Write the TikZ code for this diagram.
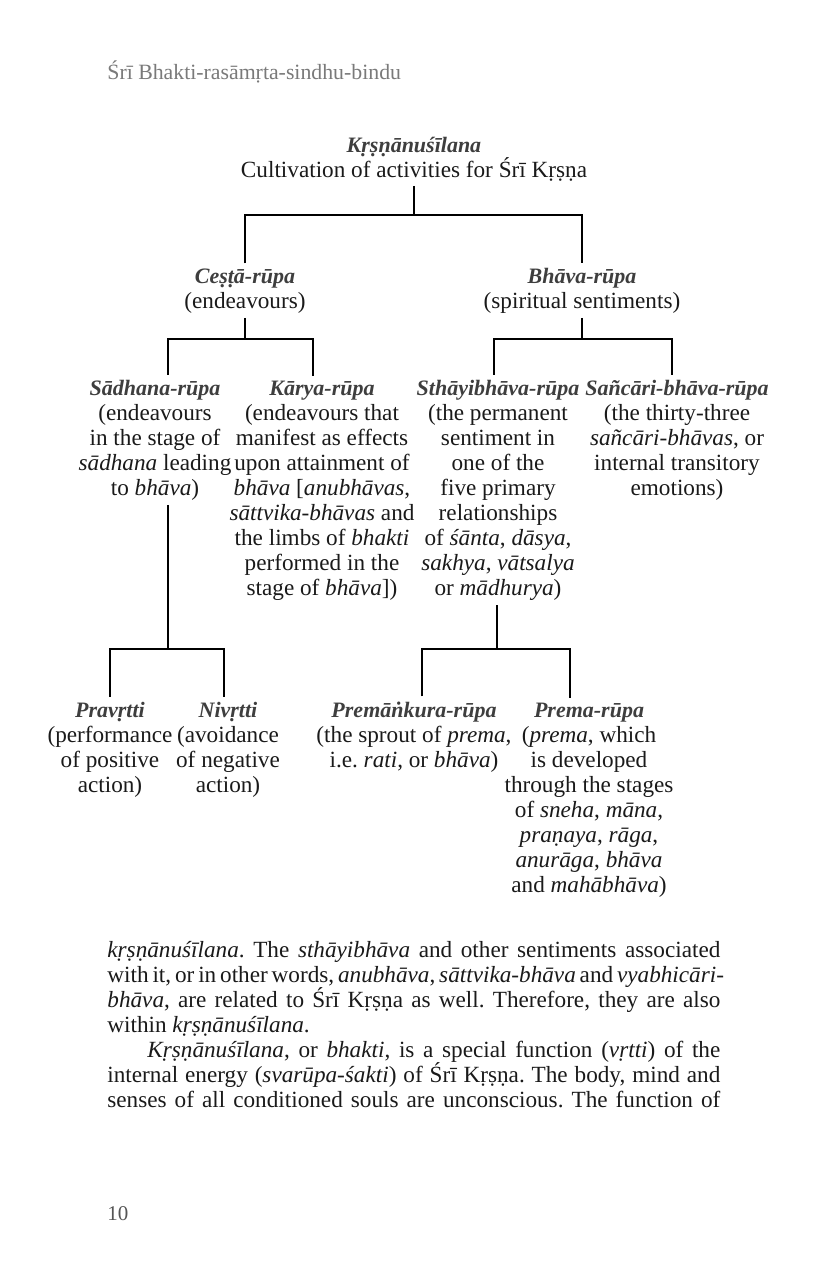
\documentclass[tikz,border=0pt]{standalone}
\usepackage{fontspec}
\setmainfont{Liberation Serif}
\definecolor{ttlgray}{HTML}{3E3E3E}
\definecolor{hdrgray}{HTML}{7A7A7A}
\definecolor{ink}{HTML}{1A1A1A}
\newcommand\ttl[1]{{\fontsize{11}{12.5}\selectfont\color{ttlgray}\bfseries\itshape #1}}
\newcommand\jline[2]{\makebox[#1][s]{#2}}
\newcommand\txtfont{\fontsize{11.6}{12.5}\selectfont\lineskiplimit=-20pt\lineskip=0pt}
\frenchspacing
\begin{document}
\begin{tikzpicture}[x=0.5pt,y=-0.5pt,
  lbl/.style={align=center, inner sep=0pt, outer sep=2.5pt, anchor=base,
    font=\txtfont, text=ink},
  conn/.style={line width=1pt, draw=black}]
\useasboundingbox[fill=white] (0,0) rectangle (825,1275);

% running head and folio
\node[anchor=base west, inner sep=0pt, text=hdrgray, font=\fontsize{10.9}{12.5}\selectfont] (head) at (107,79) {Śrī Bhakti-rasāmṛta-sindhu-bindu};
\node[anchor=base west, inner sep=0pt, text=hdrgray!70!black, font=\fontsize{10.5}{12.5}\selectfont] (folio) at (107,1220) {10};

% tree nodes (base anchor = baseline of the last line)
\node[lbl] (root) at (414,177) {\ttl{Kṛṣṇānuśīlana}\\Cultivation of activities for Śrī Kṛṣṇa};
\node[lbl] (cesta) at (245,308) {\ttl{Ceṣṭā-rūpa}\\(endeavours)};
\node[lbl] (bhava) at (582,308) {\ttl{Bhāva-rūpa}\\(spiritual sentiments)};
\node[lbl] (sadhana) at (155,495) {\ttl{Sādhana-rūpa}\\(endeavours\\in the stage of\\\textit{sādhana} leading\\to \textit{bhāva})};
\node[lbl] (karya) at (322,595) {\ttl{Kārya-rūpa}\\(endeavours that\\manifest as effects\\upon attainment of\\\textit{bhāva} [\textit{anubhāvas},\\\textit{sāttvika-bhāvas} and\\the limbs of \textit{bhakti}\\performed in the\\stage of \textit{bhāva}])};
\node[lbl] (sthayi) at (498,595) {\ttl{Sthāyibhāva-rūpa}\\(the permanent\\sentiment in\\one of the\\five primary\\relationships\\of \textit{śānta}, \textit{dāsya},\\\textit{sakhya}, \textit{vātsalya}\\or \textit{mādhurya})};
\node[lbl] (sancari) at (677,495) {\ttl{Sañcāri-bhāva-rūpa}\\(the thirty-three\\\textit{sañcāri-bhāvas}, or\\internal transitory\\emotions)};
\node[lbl] (pravrtti) at (110,792) {\ttl{Pravṛtti}\\(performance\\of positive\\action)};
\node[lbl] (nivrtti) at (228,792) {\ttl{Nivṛtti}\\(avoidance\\of negative\\action)};
\node[lbl] (premankura) at (414,767) {\ttl{Premāṅkura-rūpa}\\(the sprout of \textit{prema},\\i.e. \textit{rati}, or \textit{bhāva})};
\node[lbl] (prema) at (589,892) {\ttl{Prema-rūpa}\\(\textit{prema}, which\\is developed\\through the stages\\of \textit{sneha}, \textit{māna},\\\textit{praṇaya}, \textit{rāga},\\\textit{anurāga}, \textit{bhāva}\\and \textit{mahābhāva})};

% connector anchor points
\coordinate (bar1) at (0,215);
\coordinate (bar2) at (0,339);
\coordinate (bar3) at (0,649);
\coordinate (sB) at ([xshift=6.5pt]sadhana.south);
\coordinate (sT) at ([xshift=6.5pt]sadhana.north);
\coordinate (kT) at ([xshift=-4.5pt]karya.north);
\coordinate (thT) at ([xshift=-2pt]sthayi.north);
\coordinate (thB) at ([xshift=-0.5pt]sthayi.south);
\coordinate (scT) at ([xshift=-2.5pt]sancari.north);
\coordinate (nT) at ([xshift=-2pt]nivrtti.north);
\coordinate (pkT) at ([xshift=4pt]premankura.north);
\coordinate (pT) at ([xshift=-9.5pt]prema.north);

% connectors
\draw[conn] (root.south) -- (root.south |- bar1);
\draw[conn] (cesta.north) |- (bhava.north |- bar1) -- (bhava.north);
\draw[conn] (cesta.south) -- (cesta.south |- bar2);
\draw[conn] (sT) |- (kT |- bar2) -- (kT);
\draw[conn] (bhava.south) -- (bhava.south |- bar2);
\draw[conn] (thT) |- (scT |- bar2) -- (scT);
\draw[conn] (sB) -- (sB |- bar3);
\draw[conn] (pravrtti.north) |- (nT |- bar3) -- (nT);
\draw[conn] (thB) -- (thB |- bar3);
\draw[conn] (pkT) |- (pT |- bar3) -- (pT);

% body text
\node[anchor=base west, inner sep=0pt, align=left, text=ink, font=\txtfont] (body) at (107,1107) {%
\jline{306.5pt}{\textit{kṛṣṇānuśīlana}. The \textit{sthāyibhāva} and other sentiments associated}\\
\jline{306.5pt}{with it, or in other words, \textit{anubhāva}, \textit{sāttvika-bhāva} and \textit{vyabhicāri-}}\\
\jline{306.5pt}{\textit{bhāva}, are related to Śrī Kṛṣṇa as well. Therefore, they are also}\\
within \textit{kṛṣṇānuśīlana}.\\
\hspace*{20pt}\jline{286.5pt}{\textit{Kṛṣṇānuśīlana}, or \textit{bhakti}, is a special function (\textit{vṛtti}) of the}\\
\jline{306.5pt}{internal energy (\textit{svarūpa-śakti}) of Śrī Kṛṣṇa. The body, mind and}\\
\jline{306.5pt}{senses of all conditioned souls are unconscious. The function of}};
\end{tikzpicture}
\end{document}
